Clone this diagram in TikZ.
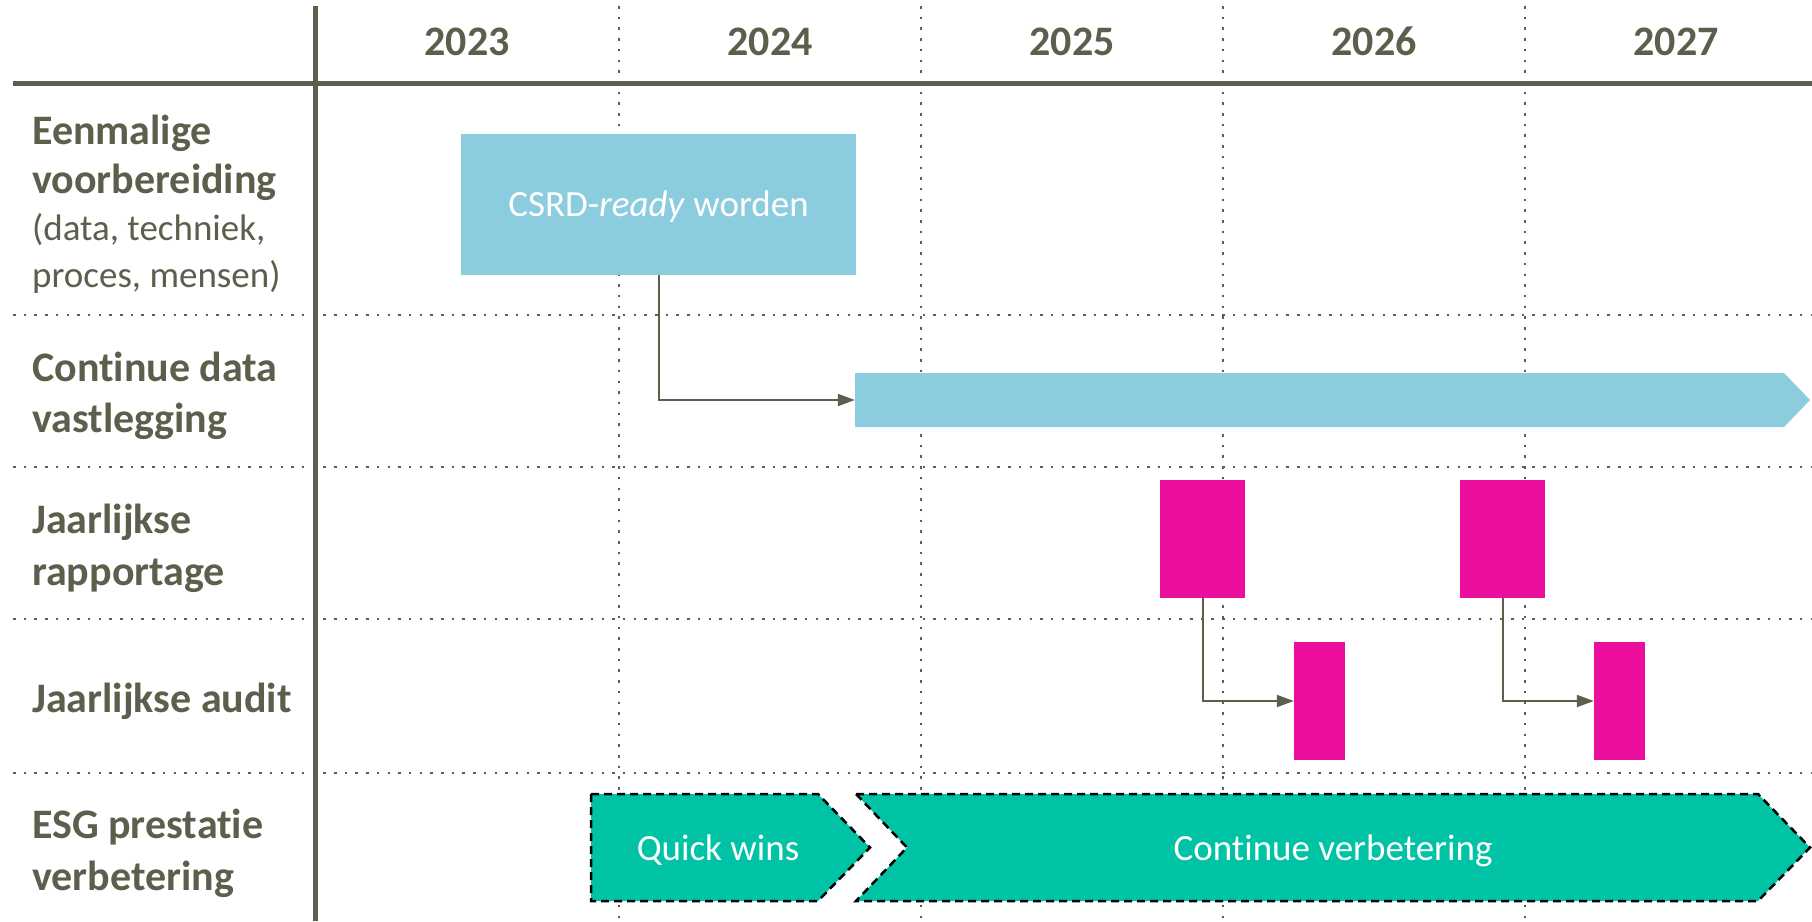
\documentclass[tikz,border=0pt]{standalone}
\usepackage{fontspec}
\setmainfont{Carlito}[Ligatures=NoCommon]
\usetikzlibrary{arrows.meta}
\definecolor{olive}{RGB}{94,94,76}
\definecolor{lblue}{RGB}{139,204,223}
\definecolor{pink}{RGB}{236,14,157}
\definecolor{teal}{RGB}{0,195,165}
\tikzset{
  lbl/.style={anchor=base west,inner sep=0pt,text=olive,font=\fontsize{42}{50}\selectfont\bfseries},
  lblreg/.style={anchor=base west,inner sep=0pt,text=olive,font=\fontsize{37}{45}\selectfont},
  year/.style={anchor=base,inner sep=0pt,text=olive,font=\fontsize{42}{50}\selectfont\bfseries},
  dotline/.style={draw=olive,line width=2.5pt,dash pattern=on 2.5pt off 8.2pt},
  thick line/.style={draw=olive,line width=5pt},
  pinkbox/.style={fill=pink,draw=none,inner sep=0pt,rectangle},
  conn/.style={draw=olive,line width=2pt,-{Triangle[length=17pt,width=12pt]}},
  esg/.style={fill=teal,draw=black,line width=2.5pt,dash pattern=on 8pt off 5pt},
  wtext/.style={text=white,inner sep=0pt,font=\fontsize{37}{45}\selectfont},
}
\begin{document}
\begin{tikzpicture}[x=1pt,y=-1pt]
\useasboundingbox (0,0) rectangle (1812,921);
% dotted grid
\foreach \xx in {619,921,1223,1525} \draw[dotline] (\xx,6) -- (\xx,921);
\foreach \yy in {315,467,619,773} \draw[dotline] (13,\yy) -- (1812,\yy);
% main axes
\draw[thick line] (13,83) -- (1812,83);
\draw[thick line] (315,6) -- (315,921);
% years
\node[year] (y23) at (467,55) {2023};
\node[year] (y24) at (770,55) {2024};
\node[year] (y25) at (1072,55) {2025};
\node[year] (y26) at (1374,55) {2026};
\node[year] (y27) at (1676,55) {2027};
% row labels
\node[lbl] (l1a) at (32,144) {Eenmalige};
\node[lbl] (l1b) at (32,193) {voorbereiding};
\node[lblreg] (l1c) at (32,240) {(data, techniek,};
\node[lblreg] (l1d) at (32,287) {proces, mensen)};
\node[lbl] (l2a) at (32,381) {Continue data};
\node[lbl] (l2b) at (32,432) {vastlegging};
\node[lbl] (l3a) at (32,533) {Jaarlijkse};
\node[lbl] (l3b) at (32,585) {rapportage};
\node[lbl] (l4a) at (32,712) {Jaarlijkse audit};
\node[lbl] (l5a) at (32,838) {ESG prestatie};
\node[lbl] (l5b) at (32,890) {verbetering};
% CSRD box
\node[fill=lblue,inner sep=0pt,minimum width=395pt,minimum height=141pt,
      text=white,font=\fontsize{37}{45}\selectfont,text height=24pt,text depth=0pt]
  (csrd) at (658.5,204.5) {CSRD-\textit{ready} worden};
% continuous data bar
\fill[lblue] (855,373) -- (1784,373) -- (1810,400) -- (1784,427) -- (855,427) -- cycle;
\node[inner sep=0pt,minimum width=929pt,minimum height=54pt] (data) at (1319.5,400) {};
% pink boxes
\node[pinkbox,minimum width=85pt,minimum height=118pt] (r1) at (1202.5,539) {};
\node[pinkbox,minimum width=85pt,minimum height=118pt] (r2) at (1502.5,539) {};
\node[pinkbox,minimum width=51pt,minimum height=118pt] (a1) at (1319.5,701) {};
\node[pinkbox,minimum width=51pt,minimum height=118pt] (a2) at (1619.5,701) {};
% connectors
\draw[conn] (csrd.south) |- (data.west);
\draw[conn] (r1.south) |- (a1.west);
\draw[conn] (r2.south) |- (a2.west);
% ESG chevrons
\draw[esg] (591,794) -- (818,794) -- (870,847.5) -- (818,901) -- (591,901) -- cycle;
\draw[esg] (856,794) -- (1758,794) -- (1810,847.5) -- (1758,901) -- (856,901) -- (907,847.5) -- cycle;
\node[wtext,anchor=base] (qw) at (718,860) {Quick wins};
\node[wtext,anchor=base] (cv) at (1333,860) {Continue verbetering};
\end{tikzpicture}
\end{document}
